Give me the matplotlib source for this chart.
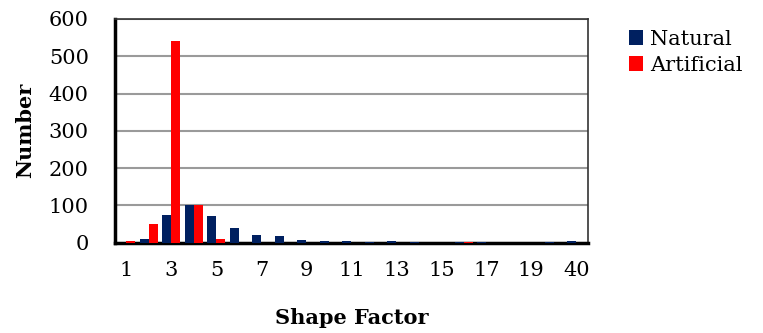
import numpy as np
import matplotlib.pyplot as plt

plt.rcParams['font.family'] = ['DejaVu Serif']

categories = ['1', '2', '3', '4', '5', '6', '7', '8', '9', '10',
              '11', '12', '13', '14', '15', '16', '17', '18', '19', '20', '40']
natural = [0, 10, 75, 100, 72, 40, 21, 17, 8, 6,
           6, 3, 4, 1, 0, 1, 3, 0, 0, 2, 4]
artificial = [5, 49, 540, 100, 9, 0, 0, 0, 0, 0,
              0, 0, 0, 0, 0, 2, 0, 0, 0, 0, 0]

x = np.arange(len(categories))
w = 0.4

fig = plt.figure(figsize=(7.63, 3.33), dpi=100)
ax = fig.add_axes([0.151, 0.271, 0.619, 0.672])

ax.bar(x - w / 2, natural, width=w, color='#002060', label='Natural', zorder=3)
ax.bar(x + w / 2, artificial, width=w, color='#FF0000', label='Artificial', zorder=3)

ax.set_xlim(-0.5, len(categories) - 0.5)
ax.set_ylim(0, 600)
ax.set_yticks(np.arange(0, 601, 100))
ax.set_xticks(x[::2])
ax.set_xticklabels(categories[::2])
ax.tick_params(axis='both', length=0, labelsize=15)
ax.tick_params(axis='x', pad=13)
ax.tick_params(axis='y', pad=19)
ax.yaxis.grid(True, color='#9a9a9a', linewidth=1.5, zorder=0)

for s in ['left', 'bottom']:
    ax.spines[s].set_linewidth(2.5)
    ax.spines[s].set_color('black')
for s in ['top', 'right']:
    ax.spines[s].set_linewidth(1.2)
    ax.spines[s].set_color('#333333')

ax.set_xlabel('Shape Factor', fontsize=15, fontweight='bold', labelpad=20)
ax.set_ylabel('Number', fontsize=15, fontweight='bold', labelpad=10)

ax.legend(loc='upper left', bbox_to_anchor=(1.07, 0.99), frameon=False,
          fontsize=15, handlelength=0.7, handleheight=0.7, handletextpad=0.3,
          labelspacing=0.35, borderaxespad=0)

fig.savefig('out.png', dpi=100)
